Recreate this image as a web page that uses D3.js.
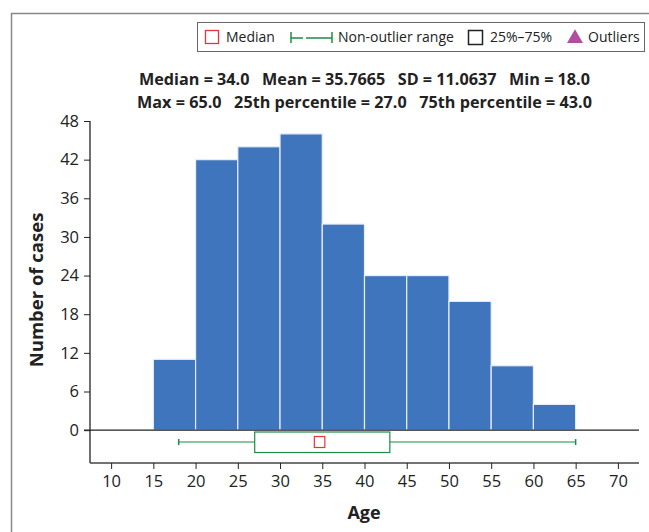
<!DOCTYPE html>
<html><head><meta charset="utf-8">
<script src="https://cdn.jsdelivr.net/npm/d3@7"></script>
<style>
html,body{margin:0;padding:0;background:#fff;}
text{font-family:"Open Sans",sans-serif;fill:#222;}
</style></head>
<body><svg id="c" width="649" height="532"></svg>
<script>
const binStarts = [15, 20, 25, 30, 35, 40, 45, 50, 55, 60];
const binWidth = 5;
const counts = [11, 42, 44, 46, 32, 24, 24, 20, 10, 4];
const yTicks = [0, 6, 12, 18, 24, 30, 36, 42, 48];
const xTicks = [10, 15, 20, 25, 30, 35, 40, 45, 50, 55, 60, 65, 70];
const median = 34.0, q1 = 27.0, q3 = 43.0, minV = 18.0, maxV = 65.0;
const statLines = [
  "Median = 34.0   Mean = 35.7665   SD = 11.0637   Min = 18.0",
  "Max = 65.0   25th percentile = 27.0   75th percentile = 43.0"
];
const legendItems = ["Median", "Non-outlier range", "25%\u201375%", "Outliers"];

const svg = d3.select("#c");
const blue = "#3f75bd", green = "#1e8c45", red = "#e8323c", purple = "#b04fa0";

// outer frame
svg.append("path").attr("d","M11.5,532 L11.5,13.5 L649,13.5").attr("fill","none").attr("stroke","#888").attr("stroke-width",1.5);

const x = d3.scaleLinear().domain([7.5, 72.5]).range([90, 639]);
const y = d3.scaleLinear().domain([-5.1, 48]).range([463, 121]);

// bars
svg.append("g").selectAll("rect").data(counts).join("rect")
  .attr("x",(d,i)=>x(binStarts[i]))
  .attr("width",(d,i)=>x(binStarts[i]+binWidth)-x(binStarts[i]))
  .attr("y",d=>y(d)).attr("height",d=>y(0)-y(d))
  .attr("fill",blue).attr("stroke","#e8eef7").attr("stroke-width",1.2);

// zero line
svg.append("line").attr("x1",x.range()[0]-6).attr("x2",x.range()[1]).attr("y1",y(0)).attr("y2",y(0)).attr("stroke","#222").attr("stroke-width",1.3);

// y axis
const ya = svg.append("g").attr("transform","translate(90,0)")
  .call(d3.axisLeft(y).tickValues(yTicks).tickSize(6).tickPadding(5));
ya.attr("font-size",null);
ya.select(".domain").attr("d",`M0,${y(48)}V${y(-5.1)}`).attr("stroke","#222").attr("stroke-width",1.3);
ya.selectAll(".tick line").attr("stroke","#222");
ya.selectAll("text").style("font-size","16.5px").attr("fill","#222").style("font-family","'Open Sans',sans-serif");

// x axis
const xa = svg.append("g").attr("transform",`translate(0,${y(-5.1)})`)
  .call(d3.axisBottom(x).tickValues(xTicks).tickSize(6).tickPadding(6));
xa.attr("font-size",null);
xa.select(".domain").attr("d",`M90,0H639`).attr("stroke","#444").attr("stroke-width",1.3);
xa.selectAll(".tick line").attr("stroke","#222");
xa.selectAll("text").style("font-size","16.5px").attr("fill","#222").style("font-family","'Open Sans',sans-serif");

// box plot
const by = 442;
const bp = svg.append("g");
bp.append("line").attr("x1",x(minV)).attr("x2",x(q1)).attr("y1",by).attr("y2",by).attr("stroke",green).attr("stroke-width",1.2);
bp.append("line").attr("x1",x(q3)).attr("x2",x(maxV)).attr("y1",by).attr("y2",by).attr("stroke",green).attr("stroke-width",1.2);
[minV,maxV].forEach(v=>bp.append("line").attr("x1",x(v)).attr("x2",x(v)).attr("y1",by-3).attr("y2",by+3).attr("stroke",green).attr("stroke-width",1.5));
bp.append("rect").attr("x",x(q1)).attr("width",x(q3)-x(q1)).attr("y",432).attr("height",20.5).attr("fill","#fff").attr("stroke",green).attr("stroke-width",1.2);
bp.append("rect").attr("x",x(median)+0.5).attr("width",10.5).attr("y",by-5.5).attr("height",11).attr("fill","#fff").attr("stroke",red).attr("stroke-width",1.2);

// stats text
statLines.forEach((t,i)=>{
  svg.append("text").attr("x",364.5).attr("y",84.5+i*23.5).attr("text-anchor","middle")
    .attr("font-size",16.2).attr("font-weight","bold").attr("fill","#222").style("white-space","pre").text(t);
});

// axis titles
svg.append("text").attr("x",364).attr("y",519).attr("text-anchor","middle").attr("font-size",18).attr("font-weight","bold").attr("fill","#222").text("Age");
svg.append("text").attr("transform","translate(43,290) rotate(-90)").attr("text-anchor","middle").attr("font-size",18.5).attr("font-weight","bold").attr("fill","#222").text("Number of cases");

// legend
const lg = svg.append("g");
lg.append("rect").attr("x",197.5).attr("y",22.5).attr("width",447).attr("height",29).attr("fill","#fff").attr("stroke","#666").attr("stroke-width",1);
const ly = 37;
lg.append("rect").attr("x",205.5).attr("y",ly-6.5).attr("width",13).attr("height",13).attr("fill","#fff").attr("stroke",red).attr("stroke-width",1.3);
lg.append("text").attr("x",226).attr("y",ly+5).attr("font-size",14).text(legendItems[0]);
lg.append("line").attr("x1",291).attr("x2",332).attr("y1",ly+1).attr("y2",ly+1).attr("stroke",green).attr("stroke-width",1.5).attr("stroke-dasharray","12,3,26");
[291,332].forEach(xx=>lg.append("line").attr("x1",xx).attr("x2",xx).attr("y1",ly-5).attr("y2",ly+6).attr("stroke",green).attr("stroke-width",1.5));
lg.append("text").attr("x",338).attr("y",ly+5).attr("font-size",14).text(legendItems[1]);
lg.append("rect").attr("x",468.5).attr("y",ly-6.5).attr("width",14).attr("height",14).attr("fill","#fff").attr("stroke","#222").attr("stroke-width",1.5);
lg.append("text").attr("x",490).attr("y",ly+5).attr("font-size",14).text(legendItems[2]);
lg.append("path").attr("d",d3.symbol(d3.symbolTriangle,110)()).attr("transform",`translate(575,${ly+1.5})`).attr("fill",purple);
lg.append("text").attr("x",588).attr("y",ly+5).attr("font-size",14).text(legendItems[3]);
</script></body></html>
